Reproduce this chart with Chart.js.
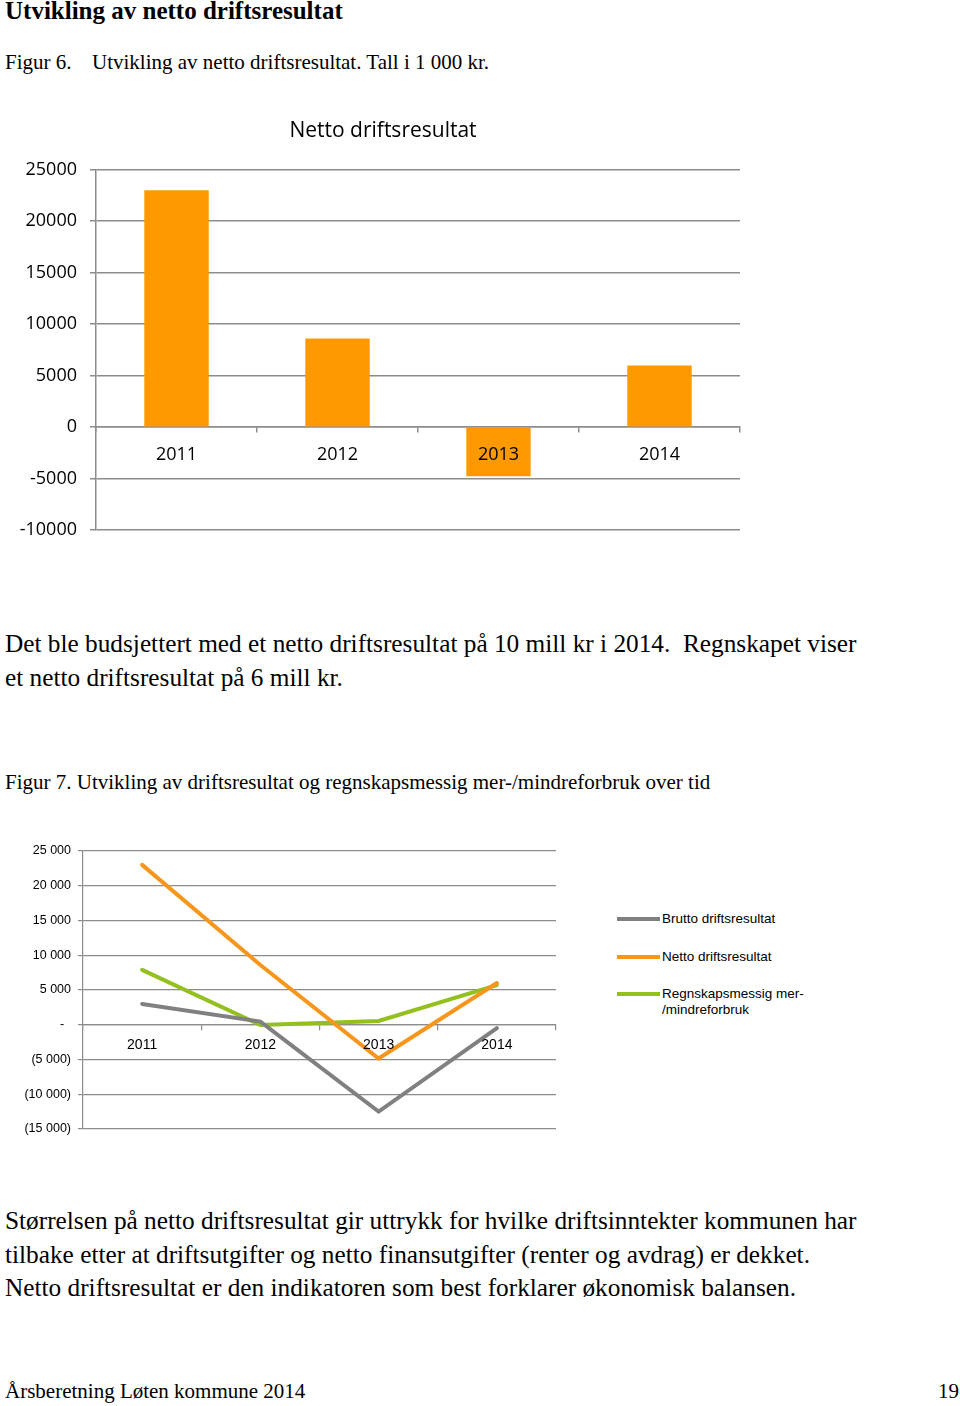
<!DOCTYPE html>
<html>
<head>
<meta charset="utf-8">
<script src="https://cdn.jsdelivr.net/npm/chart.js@4"></script>
<style>
  body { margin: 0; background: #fff; }
  #page { position: relative; width: 960px; height: 1406px; overflow: hidden; font-family: "Liberation Serif", "Times New Roman", serif; color: #000; }
  .t { position: absolute; white-space: nowrap; }
  canvas { position: absolute; left: 0; }
  .leg { position: absolute; left: 617px; font: 13.5px "Liberation Sans", Arial, sans-serif; line-height: 16px; }
  .leg i { position: absolute; left: 0; top: 6px; width: 43px; height: 4px; }
  .leg span { position: absolute; left: 45px; top: 0; white-space: nowrap; }
</style>
</head>
<body>
<div id="page">
  <div class="t" style="left:5px;top:-4px;font-size:25px;font-weight:bold;line-height:30px">Utvikling av netto driftsresultat</div>
  <div class="t" style="left:5px;top:50px;font-size:21px;line-height:24px">Figur 6.</div>
  <div class="t" style="left:92px;top:50px;font-size:21px;line-height:24px">Utvikling av netto driftsresultat. Tall i 1 000 kr.</div>

  <canvas id="c1" width="766" height="444" style="top:110px"></canvas>

  <div class="t" style="left:5px;top:626px;font-size:25.3px;line-height:34px">Det ble budsjettert med et netto driftsresultat på 10 mill kr i 2014.&nbsp; Regnskapet viser<br>et netto driftsresultat på 6 mill kr.</div>
  <div class="t" style="left:5px;top:770px;font-size:21px;line-height:24px">Figur 7. Utvikling av driftsresultat og regnskapsmessig mer-/mindreforbruk over tid</div>

  <canvas id="c2" width="570" height="320" style="top:831px"></canvas>
  <div class="leg" style="top:911px;height:16px"><i style="background:#808080"></i><span>Brutto driftsresultat</span></div>
  <div class="leg" style="top:949px;height:16px"><i style="background:#f7961d"></i><span>Netto driftsresultat</span></div>
  <div class="leg" style="top:986px;height:32px"><i style="background:#93c01f"></i><span>Regnskapsmessig mer-<br>/mindreforbruk</span></div>

  <div class="t" style="left:5px;top:1204px;font-size:25.3px;line-height:33.5px">Størrelsen på netto driftsresultat gir uttrykk for hvilke driftsinntekter kommunen har<br>tilbake etter at driftsutgifter og netto finansutgifter (renter og avdrag) er dekket.<br>Netto driftsresultat er den indikatoren som best forklarer økonomisk balansen.</div>

  <div class="t" style="left:5px;top:1378px;font-size:21px;line-height:26px">Årsberetning Løten kommune 2014</div>
  <div class="t" style="right:1px;top:1378px;font-size:21px;line-height:26px">19</div>
</div>

<script>
// Figur 6 - netto driftsresultat (1000 kr)
const years = ['2011', '2012', '2013', '2014'];
const nettoBar = [23000, 8600, -4750, 6000];

// Figur 7 - driftsresultat og mer-/mindreforbruk
const brutto = [3000, 450, -12500, -500];
const netto = [23000, 8600, -4850, 6000];
const regnskap = [7900, -50, 550, 5700];

const gridGrey = '#8c8c8c';

// 25 000 / - / (5 000)
function fmtNok(v) {
  const s = String(Math.abs(v)).replace(/\B(?=(\d{3})+(?!\d))/g, ' ');
  if (v === 0) return '-  ';
  return v < 0 ? '(' + s + ')' : s;
}

new Chart(document.getElementById('c1'), {
  type: 'bar',
  data: {
    labels: years,
    datasets: [{
      data: nettoBar,
      backgroundColor: '#ff9900',
      categoryPercentage: 1,
      barPercentage: 0.4
    }]
  },
  options: {
    responsive: false,
    animation: false,
    layout: { padding: 0 },
    plugins: {
      legend: { display: false },
      tooltip: { enabled: false },
      title: {
        display: true,
        text: 'Netto driftsresultat',
        color: '#000',
        font: { family: 'Open Sans', size: 21, weight: 'normal' },
        padding: { top: 8, bottom: 26.5 }
      }
    },
    scales: {
      x: {
        position: { y: 0 },
        grid: { display: true, drawOnChartArea: false, tickLength: 5, color: gridGrey, lineWidth: 1.5 },
        border: { color: gridGrey, width: 1.5 },
        ticks: { color: '#000', font: { family: 'Open Sans', size: 18 }, padding: 12, z: 1 }
      },
      y: {
        min: -10000,
        max: 25000,
        afterFit: s => { s.width = 96; },
        grid: { color: gridGrey, lineWidth: 1.5, tickLength: 6 },
        border: { color: gridGrey, width: 1.5 },
        ticks: { stepSize: 5000, color: '#000', padding: 13, font: { family: 'Open Sans', size: 18 }, callback: v => String(v) }
      },
      // empty right margin so the title centres like the original
      yRight: {
        position: 'right',
        afterFit: s => { s.width = 26; },
        grid: { display: false },
        border: { display: false },
        ticks: { display: false }
      }
    }
  }
});

new Chart(document.getElementById('c2'), {
  type: 'line',
  data: {
    labels: years,
    datasets: [
      { label: 'Brutto driftsresultat', data: brutto, borderColor: '#808080' },
      { label: 'Netto driftsresultat', data: netto, borderColor: '#f7961d' },
      { label: 'Regnskapsmessig mer-/mindreforbruk', data: regnskap, borderColor: '#93c01f' }
    ]
  },
  options: {
    responsive: false,
    animation: false,
    elements: {
      line: { borderWidth: 4, tension: 0, fill: false, borderCapStyle: 'round', borderJoinStyle: 'miter' },
      point: { radius: 0 }
    },
    layout: { padding: { left: 0, right: 14, top: 20, bottom: 22 } },
    plugins: {
      legend: { display: false },
      tooltip: { enabled: false }
    },
    scales: {
      x: {
        position: { y: 0 },
        offset: true,
        grid: { display: true, offset: true, drawOnChartArea: false, tickLength: 5, color: gridGrey, lineWidth: 1.2 },
        border: { color: gridGrey, width: 1.2 },
        ticks: { color: '#000', font: { family: 'Liberation Sans', size: 14 }, padding: 7, z: 1 }
      },
      y: {
        min: -15000,
        max: 25000,
        afterFit: s => { s.width = 83; },
        grid: { color: gridGrey, lineWidth: 1.2, tickLength: 5 },
        border: { color: gridGrey, width: 1.2 },
        ticks: { stepSize: 5000, color: '#000', padding: 7, font: { family: 'Liberation Sans', size: 12.5 }, callback: fmtNok }
      }
    }
  }
});
</script>
</body>
</html>
